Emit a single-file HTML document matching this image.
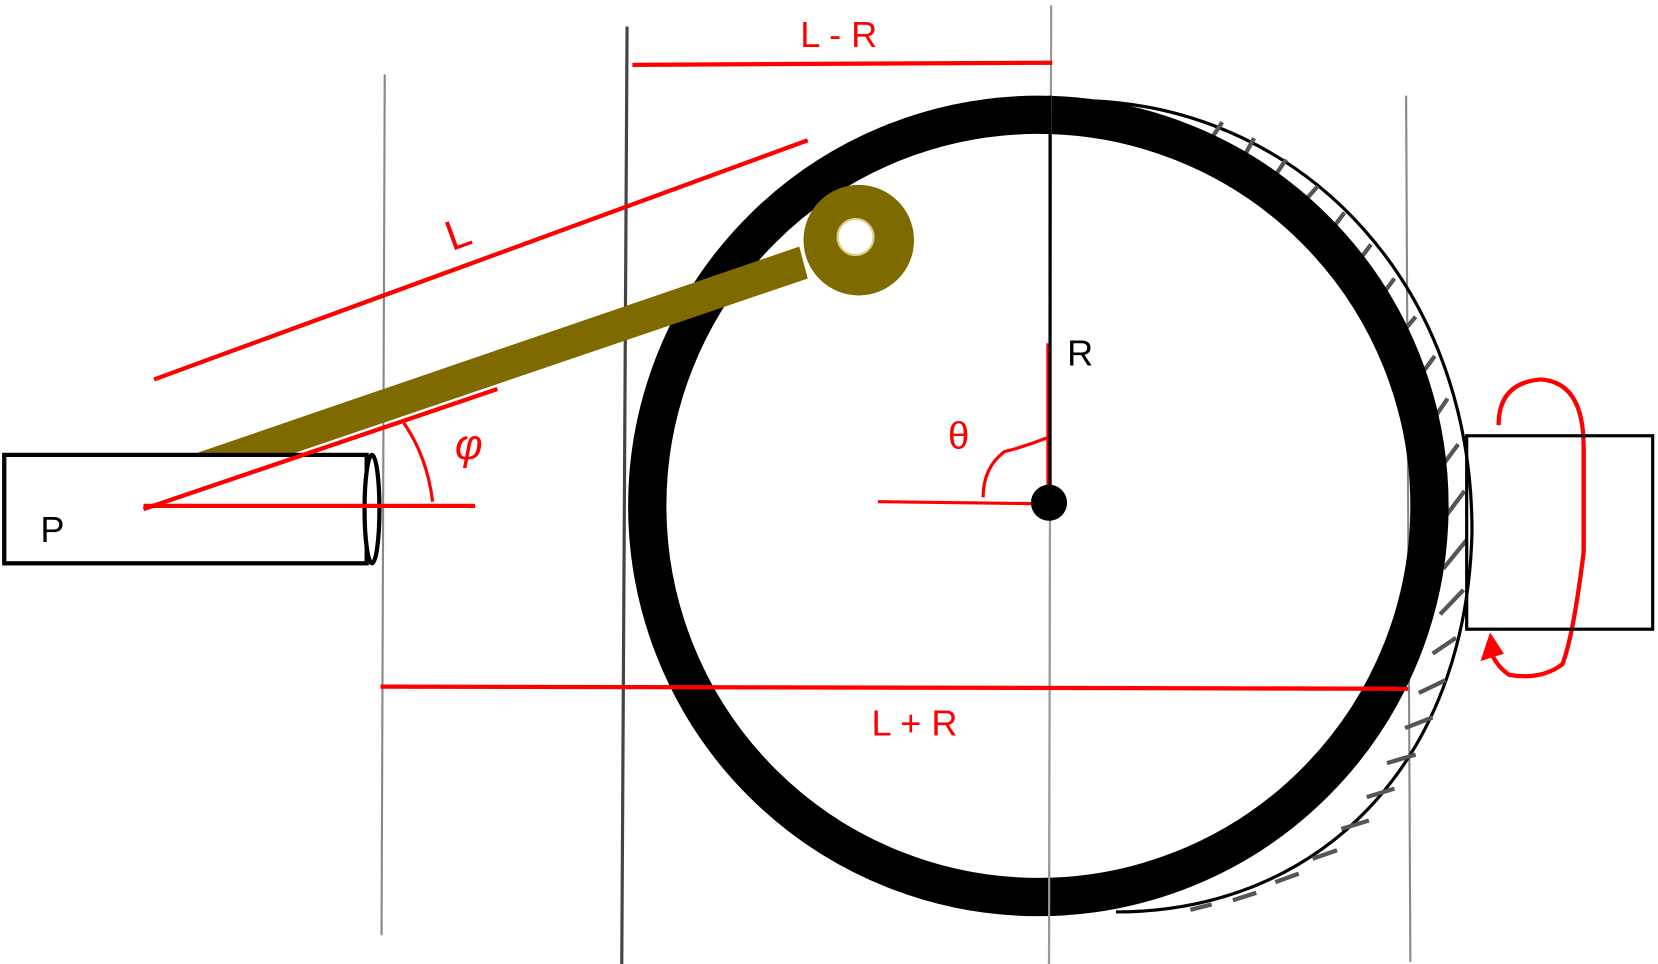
<!DOCTYPE html>
<html><head><meta charset="utf-8"><style>html,body{margin:0;padding:0;background:#fff;overflow:hidden}svg{display:block}</style></head>
<body>
<svg width="1658" height="964" viewBox="0 0 1560 907" preserveAspectRatio="none" xmlns="http://www.w3.org/2000/svg" font-family="Liberation Sans, sans-serif">
<rect width="1560" height="907" fill="#fff"/>
<g stroke="#888" stroke-width="2">
<line x1="362" y1="70" x2="359" y2="880"/>
<line x1="590" y1="25" x2="585" y2="910" stroke="#444" stroke-width="3"/>
<line x1="989" y1="5" x2="987" y2="910" stroke="#999"/>
<line x1="1323" y1="90" x2="1327" y2="905"/>
</g>
<path d="M1030,95 C1230,105 1385,270 1385,500 C1380,720 1240,858 1050,858" fill="none" stroke="#000" stroke-width="3"/>
<g stroke="#555" stroke-width="4">
<line x1="1150" y1="115" x2="1140" y2="130"/><line x1="1180" y1="130" x2="1170" y2="148"/><line x1="1210" y1="150" x2="1198" y2="168"/><line x1="1240" y1="175" x2="1225" y2="192"/><line x1="1265" y1="200" x2="1250" y2="220"/><line x1="1290" y1="230" x2="1275" y2="250"/><line x1="1312" y1="262" x2="1297" y2="282"/><line x1="1332" y1="298" x2="1315" y2="318"/><line x1="1350" y1="335" x2="1333" y2="358"/><line x1="1362" y1="375" x2="1345" y2="400"/><line x1="1372" y1="418" x2="1352" y2="445"/><line x1="1378" y1="462" x2="1357" y2="490"/><line x1="1380" y1="508" x2="1358" y2="535"/><line x1="1377" y1="555" x2="1355" y2="578"/><line x1="1370" y1="600" x2="1348" y2="615"/><line x1="1360" y1="640" x2="1335" y2="652"/><line x1="1348" y1="675" x2="1322" y2="685"/><line x1="1332" y1="710" x2="1305" y2="718"/><line x1="1312" y1="742" x2="1286" y2="750"/><line x1="1288" y1="772" x2="1262" y2="780"/><line x1="1258" y1="800" x2="1235" y2="808"/><line x1="1222" y1="822" x2="1200" y2="830"/><line x1="1182" y1="840" x2="1160" y2="847"/><line x1="1140" y1="851" x2="1120" y2="856"/>
</g>
<circle cx="977" cy="476" r="368" fill="none" stroke="#000" stroke-width="36"/>
<line x1="989" y1="5" x2="987" y2="910" stroke="#999" stroke-width="2"/>
<polygon points="180,428 272,428 760,262 752,232" fill="#7f6a00"/>
<circle cx="808" cy="226" r="52" fill="#7f6a00"/>
<circle cx="805" cy="223" r="17" fill="#fff" stroke="#d8cc88" stroke-width="2"/>
<rect x="4" y="428" width="341" height="102" fill="#fff" stroke="#000" stroke-width="4"/>
<ellipse cx="350" cy="479" rx="7" ry="51" fill="#fff" stroke="#000" stroke-width="4"/>
<text x="38" y="510" font-size="34" fill="#000">P</text>
<g stroke="#f00" fill="none" stroke-width="4">
<line x1="595" y1="61" x2="990" y2="59"/>
<line x1="145" y1="357" x2="760" y2="132"/>
<line x1="135" y1="479" x2="468" y2="366"/>
<line x1="135" y1="476" x2="447" y2="476"/>
<path d="M380,398 Q402,430 407,472" stroke-width="3"/>
<line x1="986" y1="323" x2="986" y2="470" stroke-width="3"/>
<path d="M925,468 Q925,440 945,425 Q965,420 985,412" stroke-width="3"/>
<line x1="826" y1="472" x2="985" y2="474" stroke-width="3"/>
<line x1="358" y1="646" x2="1325" y2="648"/>
<path d="M1410,400 Q1410,360 1450,357 Q1490,360 1490,420 L1490,520 Q1480,600 1470,625 Q1450,640 1420,635 Q1405,625 1400,605" stroke-width="4"/>
<polygon points="1393,622 1402,595 1415,615" fill="#f00" stroke="none"/>
</g>
<line x1="988" y1="90" x2="988" y2="473" stroke="#000" stroke-width="3"/>
<circle cx="987" cy="473" r="17" fill="#000"/>
<rect x="1380" y="410" width="175" height="182" fill="none" stroke="#000" stroke-width="3"/>
<path d="M1490,420 L1490,520" stroke="#f00" stroke-width="4"/>
<text x="753" y="44" font-size="34" fill="#f00">L - R</text>
<text x="420" y="232" font-size="40" fill="#f00" transform="rotate(-20 435 220)">L</text>
<text x="428" y="432" font-size="40" fill="#f00" font-style="italic">φ</text>
<text x="892" y="422" font-size="36" fill="#f00">θ</text>
<text x="1004" y="344" font-size="34" fill="#000">R</text>
<text x="820" y="692" font-size="34" fill="#f00">L + R</text>
</svg>
</body></html>
